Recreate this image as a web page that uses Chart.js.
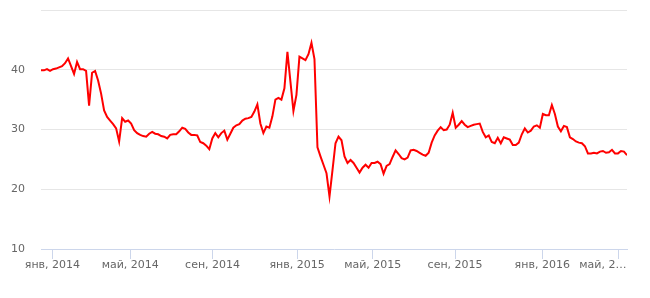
<!DOCTYPE html>
<html>
<head>
<meta charset="utf-8">
<script src="https://cdn.jsdelivr.net/npm/chart.js@4.4.1/dist/chart.umd.min.js"></script>
<style>
  html, body { margin: 0; padding: 0; background: #fff; }
  #wrap { width: 650px; height: 298px; position: relative; }
</style>
</head>
<body>
<div id="wrap"><canvas id="myChart"></canvas></div>
<script>
// цена, шаг ~3 торговых дня
var prices2013 = [39.9, 39.9, 40.1, 39.8];
var prices2014 = [
  40.1, 40.2, 40.4, 40.6, 41.1, 41.9, 40.6, 39.3, 41.3, 40.1, 40.1, 39.8, 34.0, 39.5, 39.8, 38.2, 36.0, 33.2, 32.1, 31.5, 30.9, 30.2, 28.0, 31.9,
  31.3, 31.5, 31.0, 29.9, 29.4, 29.1, 28.9, 28.8, 29.3, 29.6, 29.3, 29.2, 28.9, 28.8, 28.5, 29.1, 29.2, 29.2, 29.7, 30.3, 30.1, 29.5, 29.1, 29.1, 29.0, 27.9, 27.7, 27.3,
  26.7, 28.5, 29.4, 28.7, 29.4, 29.8, 28.3, 29.3, 30.3, 30.7, 30.9, 31.5, 31.8, 31.9, 32.1, 33.0, 34.2, 31.0, 29.4, 30.5, 30.3, 32.2, 35.0, 35.3, 35.0, 36.9, 43.0, 38.0,
  33.1, 35.8
];
var prices2015 = [
  42.2, 41.9, 41.6, 42.6, 44.5, 41.8, 27.0, 25.5, 24.1, 22.7, 18.8, 23.2, 27.7, 28.8, 28.2, 25.5, 24.4, 24.9, 24.4, 23.6, 22.8, 23.6, 24.1, 23.6, 24.4, 24.4,
  24.6, 24.2, 22.6, 23.9, 24.2, 25.4, 26.5, 25.9, 25.2, 25.0, 25.3, 26.5, 26.6, 26.4, 26.1, 25.8, 25.6, 26.1, 27.8, 29.0, 29.8, 30.4, 29.9, 30.0, 30.8, 32.8, 30.3, 30.8,
  31.4, 30.8, 30.4, 30.6, 30.8, 30.9, 31.0, 29.6, 28.7, 29.0, 27.9, 27.7, 28.6, 27.7, 28.7, 28.5, 28.3, 27.4, 27.4, 27.8, 29.2, 30.2, 29.5, 29.8, 30.5, 30.7, 30.3
];
var prices2016 = [
  32.6, 32.4, 32.4, 34.1, 32.6, 30.5, 29.7, 30.6, 30.4, 28.7, 28.4, 28.0, 27.8, 27.7, 27.2, 26.0, 26.0, 26.1, 26.0, 26.3, 26.4, 26.1, 26.2, 26.6, 26.0, 26.0, 26.4, 26.3, 25.7
];

// подписи месяцев и их место (в номерах точек)
var monthLabels = ['янв, 2014', 'май, 2014', 'сен, 2014', 'янв, 2015', 'май, 2015', 'сен, 2015', 'янв, 2016', 'май, 2…'];
var monthTickIdx = [3.8, 29.7, 57.1, 85.2, 110.4, 137.8, 166.8, 192.2];
var yTicks = [10, 20, 30, 40, 50];

var allPrices = prices2013.concat(prices2014, prices2015, prices2016);
var points = [];
for (var i = 0; i < allPrices.length; i++) {
  points.push({ x: i, y: allPrices[i] });
}

Chart.defaults.font.family = 'DejaVu Sans';
Chart.defaults.font.size = 11;
Chart.defaults.color = '#666666';

var ctx = document.getElementById('myChart').getContext('2d');
var chart = new Chart(ctx, {
  type: 'line',
  data: {
    datasets: [{
      data: points,
      borderColor: '#ff0000',
      borderWidth: 2,
      pointRadius: 0,
      tension: 0,
      fill: false
    }]
  },
  options: {
    responsive: true,
    maintainAspectRatio: false,
    animation: false,
    devicePixelRatio: 1,
    layout: { padding: { top: 10, right: 23, bottom: 0, left: 0 } },
    plugins: { legend: { display: false }, tooltip: { enabled: false } },
    scales: {
      x: {
        type: 'linear',
        min: 0,
        max: allPrices.length - 1,
        afterBuildTicks: function (scale) {
          scale.ticks = monthTickIdx.map(function (v) { return { value: v }; });
        },
        afterFit: function (scale) {
          scale.height = 49;
          scale.paddingLeft = 0;
          scale.paddingRight = 0;
        },
        ticks: {
          autoSkip: false,
          maxRotation: 0,
          padding: 0,
          callback: function (value, index) {
            var lbl = monthLabels[index];
            if (index === monthLabels.length - 1) {
              lbl = lbl + '\u00a0\u00a0\u00a0\u00a0\u00a0\u00a0\u00a0\u00a0\u00a0';
            }
            return lbl;
          }
        },
        grid: {
          drawOnChartArea: false,
          drawTicks: true,
          tickLength: 10,
          tickColor: '#ccd6eb',
          color: '#ccd6eb'
        },
        border: { display: true, color: '#ccd6eb' }
      },
      y: {
        min: 10,
        max: 50,
        afterBuildTicks: function (scale) {
          scale.ticks = yTicks.map(function (v) { return { value: v }; });
        },
        afterFit: function (scale) {
          scale.width = 41;
          scale.paddingTop = 0;
          scale.paddingBottom = 0;
        },
        ticks: {
          padding: 16,
          callback: function (value) {
            return value === 50 ? '' : value;
          }
        },
        grid: {
          drawTicks: false,
          color: function (c) {
            return c.tick && c.tick.value === 10 ? 'rgba(0,0,0,0)' : '#e6e6e6';
          }
        },
        border: { display: false }
      }
    }
  }
});
</script>
</body>
</html>
